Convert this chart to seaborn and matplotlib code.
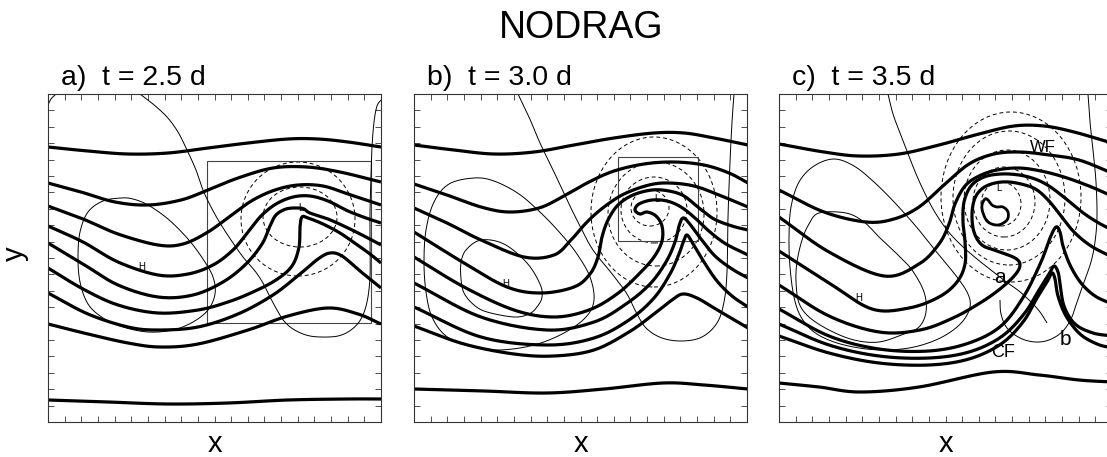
import numpy as np
import matplotlib
matplotlib.use("Agg")
import matplotlib.pyplot as plt
import seaborn as sns
from matplotlib.patches import Ellipse, Rectangle

# ---------------- data (panel units: x 0..333, y 0..328) ----------------
PANEL_TITLES = ["a)  t = 2.5 d", "b)  t = 3.0 d", "c)  t = 3.5 d"]
SUPTITLE = "NODRAG"

# Panel a: thick (theta) contours
A_TH1 = [(0,275),(40,271),(80,268),(120,269),(160,274),(200,279),(240,283),(270,283),(300,280),(333,275)]
A_TH2 = [(0,239),(33,230),(67,220),(100,217),(133,222),(160,232),(190,244),(225,254),(259,255),(292,250),(333,240)]
A_TH3 = [(0,216),(35,203),(70,188),(110,177),(135,178),(160,190),(185,208),(205,222),(227,232),(250,237),(275,236),(300,228),(333,217)]
A_TH4 = [(0,196),(35,180),(70,160),(110,147),(140,148),(165,157),(185,172),(200,190),(213,206),(228,218),(245,225),(262,226),(280,221),(300,211),(318,204),(333,199)]
A_TH5 = [(0,179),(35,158),(70,137),(110,125),(145,127),(175,140),(198,158),(214,178),(222,196),(228,207),(238,213),(250,214),(256,213),(262,209),(280,203),(300,194),(318,185),(333,177)]
A_TH6 = [(0,154),(35,133),(70,117),(110,109),(150,112),(180,120),(205,130),(228,142),(244,156),(251,175),(252,195),(254,205),(260,204),(275,198),(292,189),(308,178),(322,168),(333,159)]
A_TH7 = [(0,129),(40,108),(80,95),(110,92),(150,95),(190,108),(225,127),(252,148),(270,163),(282,169),(294,166),(312,151),(333,134)]
A_TH8 = [(0,98),(40,88),(80,79),(112,75),(150,78),(200,92),(240,106),(280,114),(310,108),(333,98)]
A_TH9 = [(0,22),(60,20),(120,18),(180,19),(240,22),(300,23),(333,23)]
# Panel a: thin solid pressure contours
A_P1 = [(92,328),(105,318),(119,305),(130,290),(139,272),(148,252),(155,232),(163,215),(172,199),(183,182),(195,165),(207,151),(215,139),(222,125),(229,112),(236,101),(245,93),(258,87),(272,85),(290,86),(303,92),(313,103),(319,120),(322,145),(322,180),(322,210),(323,245),(324,275),(326,300),(329,316),(333,322)]
A_P2 = [(73,224),(55,221),(40,210),(32,190),(30,165),(32,140),(40,118),(55,104),(75,95),(100,90),(125,92),(145,100),(160,112),(167,128),(165,145),(155,163),(140,183),(120,203),(100,217),(85,223),(73,224)]
A_P3 = [(0,317),(3,323),(8,328)]
# Panel a: dashed (low) contours: centre x, centre y, width, height
A_DX = [250, 252]
A_DY = [203, 205]
A_DW = [114, 74]
A_DH = [114, 60]
A_BOX = [159, 99, 164, 162]
A_LABELS = [("H", 94, 155), ("L", 253, 214)]

# Panel b
B_TH1 = [(0,277),(40,272),(80,268),(120,270),(160,277),(200,284),(240,289),(270,289),(300,284),(334,277)]
B_TH2 = [(0,238),(33,227),(67,215),(95,210),(125,214),(150,226),(175,240),(200,251),(230,258),(260,260),(290,257),(315,249),(334,239)]
B_TH3 = [(0,214),(33,199),(67,182),(110,165),(140,167),(157,182),(173,200),(190,215),(210,228),(235,237),(255,239),(280,236),(305,227),(334,215)]
B_TH4 = [(0,190),(50,159),(93,135),(127,129),(160,135),(176,148),(184,165),(188,185),(194,202),(204,217),(219,227),(238,232),(255,231),(270,226),(285,214),(300,203),(318,196),(334,192)]
B_TH5 = [(0,165),(50,135),(100,112),(140,105),(175,112),(203,128),(225,148),(240,165),(248,181),(248,196),(242,206),(233,210),(226,208),(221,212),(225,218),(238,222),(253,221),(267,215),(281,204),(296,190),(312,178),(334,167)]
B_TH6 = [(0,139),(67,105),(133,92),(180,100),(212,118),(236,138),(252,160),(261,180),(265,196),(269,204),(275,199),(287,183),(301,166),(318,153),(334,144)]
B_TH7 = [(0,115),(67,85),(133,77),(180,84),(215,102),(240,124),(256,148),(265,168),(270,182),(273,187),(278,180),(290,160),(303,141),(318,126),(334,115)]
B_TH8 = [(0,96),(50,78),(100,68),(140,66),(180,72),(215,90),(240,108),(258,122),(269,128),(283,124),(300,114),(334,94)]
B_TH9 = [(0,33),(70,31),(133,29),(190,33),(249,39),(290,37),(334,33)]
B_P1 = [(104,328),(115,305),(126,279),(140,250),(153,222),(166,196),(179,172),(199,147),(213,128),(222,110),(232,94),(248,84),(268,81),(288,85),(303,99),(310,120),(313,150),(314,205),(316,260),(318,300),(320,328)]
B_P2 = [(67,182),(52,172),(47,159),(47,143),(50,129),(60,117),(73,110),(100,105),(115,108),(123,115),(128,125),(126,138),(113,159),(90,178),(67,182)]
B_P3 = [(60,244),(35,238),(20,220),(12,192),(10,160),(12,130),(18,105),(32,86),(55,76),(85,72),(120,77),(150,89),(172,105),(180,122),(176,145),(163,168),(147,188),(128,208),(105,228),(80,241),(60,244)]
B_DX = [240, 242, 240, 236]
B_DY = [210, 208, 212, 214]
B_DW = [126, 96, 66, 38]
B_DH = [150, 104, 66, 36]
B_BOX = [204, 181, 80, 84]
B_LABELS = [("H", 92, 138), ("L", 243, 223)]

# Panel c
C_TH1 = [(0,278),(45,270),(80,266),(120,268),(160,277),(200,288),(235,296),(265,296),(295,290),(333,279)]
C_TH2 = [(0,232),(45,210),(87,200),(115,203),(140,215),(165,237),(190,258),(215,268),(241,270),(270,267),(300,262),(333,249)]
C_TH3 = [(0,205),(50,170),(105,146),(140,158),(160,178),(170,198),(176,218),(186,236),(200,246),(218,252),(240,254),(262,251),(285,245),(310,236),(333,226)]
C_TH4 = [(0,171),(50,139),(93,113),(130,114),(160,125),(178,140),(186,158),(186,180),(184,200),(185,220),(192,236),(205,245),(222,248),(240,247),(256,243),(270,236),(286,224),(303,210),(318,200),(333,192)]
C_TH5 = [(0,137),(50,106),(100,90),(141,92),(174,104),(201,119),(221,133),(236,147),(241,157),(236,164),(218,171),(203,177),(195,190),(193,208),(196,224),(204,234),(216,239),(230,240),(246,237),(258,232),(270,221),(282,206),(295,190),(312,176),(333,165)]
C_TH6 = [(0,113),(50,86),(100,73),(150,71),(190,79),(222,96),(245,126),(262,160),(271,184),(277,195),(281,190),(284,176),(291,157),(302,139),(316,126),(333,118)]
C_TH7 = [(0,98),(50,77),(100,66),(150,64),(190,70),(222,85),(245,108),(260,132),(270,148),(275,156),(279,150),(281,139),(285,116),(296,98),(314,89),(333,86)]
C_TH8 = [(0,86),(50,69),(100,59),(150,57),(190,63),(222,78),(244,100),(258,124),(268,140),(273,149),(276,143),(279,126),(287,106),(301,88),(318,78),(333,74)]
C_TH9 = [(0,39),(40,35),(81,30),(140,35),(214,50),(260,47),(300,42),(333,40)]
C_BLOB = [(206,223),(203,217),(204,209),(209,200),(219,197),(228,202),(229,210),(224,215),(218,215),(213,217),(209,222),(206,223)]
C_P1 = [(109,328),(114,308),(121,289),(131,263),(141,239),(154,213),(168,192),(182,177),(198,163),(212,152),(226,141),(240,131),(252,120),(261,110),(268,99)]
C_P2 = [(309,328),(311,300),(314,272),(317,240),(318,205),(316,180),(312,160),(305,140),(298,120),(292,103),(283,90),(270,82),(256,80),(241,84),(228,94),(222,108),(221,122)]
C_P3 = [(55,263),(35,256),(20,240),(12,215),(10,185),(11,155),(15,125),(22,105),(35,90),(55,80),(80,74),(105,72),(130,74),(152,80),(170,89),(184,101),(191,115),(189,128),(178,145),(160,167),(140,192),(117,218),(95,240),(75,256),(55,263)]
C_P4 = [(40,209),(67,209),(85,200),(100,185),(118,168),(133,152),(145,130),(147,110),(140,95),(125,88),(100,80),(75,82),(50,92),(30,105),(20,119),(17,140),(18,160),(23,182),(30,198),(40,209)]
C_DX = [232, 230, 228, 225, 222]
C_DY = [225, 224, 222, 220, 218]
C_DW = [140, 112, 86, 62, 40]
C_DH = [170, 134, 100, 70, 44]
C_LABELS_SMALL = [("H", 80, 124), ("L", 220, 234)]
C_LABELS_BIG = [("WF", 264, 270, 12), ("a", 221, 139, 15), ("CF", 224, 65, 13), ("b", 286, 77, 15)]

# ---------------- drawing ----------------
sns.set_theme(style="white")
plt.rcParams["font.family"] = ["Liberation Sans", "DejaVu Sans"]
plt.rcParams["text.color"] = "black"

W, H = 1107, 457
fig = plt.figure(figsize=(W / 100, H / 100), dpi=100)
AX_LEFT_PX = [48, 414, 779]
AX_W, AX_H, AX_BOTTOM_PX = 333, 328, 422


def smooth(pts, n=14, closed=False):
    P = np.asarray(pts, float)
    if closed:
        P = np.vstack([P[-2], P, P[1]])
    else:
        P = np.vstack([2 * P[0] - P[1], P, 2 * P[-1] - P[-2]])
    out = []
    t = np.linspace(0, 1, n, endpoint=False)[:, None]
    for i in range(1, len(P) - 2):
        p0, p1, p2, p3 = P[i - 1], P[i], P[i + 1], P[i + 2]
        seg = 0.5 * ((2 * p1) + (-p0 + p2) * t + (2 * p0 - 5 * p1 + 4 * p2 - p3) * t ** 2
                     + (-p0 + 3 * p1 - 3 * p2 + p3) * t ** 3)
        out.append(seg)
    out.append(P[-2][None])
    return np.vstack(out)


def draw(ax, pts, lw, closed=False):
    s = smooth(pts, closed=closed)
    sns.lineplot(x=s[:, 0], y=s[:, 1], sort=False, estimator=None, ax=ax,
                 color="black", lw=lw, solid_joinstyle="round", solid_capstyle="butt")


def dashed(ax, xs, ys, ws, hs):
    for cx, cy, w, h in zip(xs, ys, ws, hs):
        ax.add_patch(Ellipse((cx, cy), w, h, fill=False, ec="black", lw=0.7,
                             linestyle=(0, (4, 3))))


panels = [
    dict(th=[A_TH1, A_TH2, A_TH3, A_TH4, A_TH5, A_TH6, A_TH7, A_TH8, A_TH9],
         thin=[A_P1, A_P3], closed=[A_P2], d=(A_DX, A_DY, A_DW, A_DH), box=A_BOX,
         small=A_LABELS),
    dict(th=[B_TH1, B_TH2, B_TH3, B_TH4, B_TH5, B_TH6, B_TH7, B_TH8, B_TH9],
         thin=[B_P1], closed=[B_P2, B_P3], d=(B_DX, B_DY, B_DW, B_DH), box=B_BOX,
         small=B_LABELS),
    dict(th=[C_TH1, C_TH2, C_TH3, C_TH4, C_TH5, C_TH6, C_TH7, C_TH8, C_TH9],
         thin=[C_P1, C_P2], closed=[C_P3, C_P4], d=(C_DX, C_DY, C_DW, C_DH), box=None,
         small=C_LABELS_SMALL, thick_closed=[C_BLOB]),
]

for i, p in enumerate(panels):
    ax = fig.add_axes([AX_LEFT_PX[i] / W, (H - AX_BOTTOM_PX) / H, AX_W / W, AX_H / H])
    ax.set_facecolor("white")
    for c in p["thin"]:
        draw(ax, c, 0.7)
    for c in p["closed"]:
        draw(ax, c, 0.7, closed=True)
    dashed(ax, *p["d"])
    for c in p["th"]:
        draw(ax, c, 2.3)
    for c in p.get("thick_closed", []):
        draw(ax, c, 2.0, closed=True)
    if p["box"] is not None:
        bx, by, bw, bh = p["box"]
        ax.add_patch(Rectangle((bx, by), bw, bh, fill=False, ec="#444444", lw=0.8))
    for s, x, y in p["small"]:
        ax.text(x, y, s, fontsize=7, ha="center", va="center")
    ax.set_xlim(0, AX_W)
    ax.set_ylim(0, AX_H)
    ax.set_xticks(np.linspace(0, AX_W, 21))
    ax.set_yticks(np.linspace(0, AX_H, 21))
    ax.tick_params(direction="in", length=4, width=0.6, color="#333333",
                   top=True, right=True, bottom=True, left=True,
                   labelbottom=False, labelleft=False)
    ax.set_xlabel("")
    ax.set_ylabel("")
    for sp in ax.spines.values():
        sp.set_color("#333333")
        sp.set_linewidth(0.8)
    ax.text(13 / AX_W, 1 + 9 / AX_H, PANEL_TITLES[i], transform=ax.transAxes,
            fontsize=20.5, ha="left", va="baseline")
    ax.text(0.5, -30 / AX_H, "x", transform=ax.transAxes, fontsize=21,
            ha="center", va="baseline")
    if i == 2:
        for s, x, y, fs in C_LABELS_BIG:
            ax.text(x, y, s, fontsize=fs, ha="center", va="baseline")

fig.text(581 / W, 1 - 38 / H, SUPTITLE, fontsize=27, ha="center", va="baseline")
fig.text(15 / W, 1 - 254 / H, "y", fontsize=21, rotation=90, ha="center", va="center")

fig.savefig("out.png", dpi=100, facecolor="white")
